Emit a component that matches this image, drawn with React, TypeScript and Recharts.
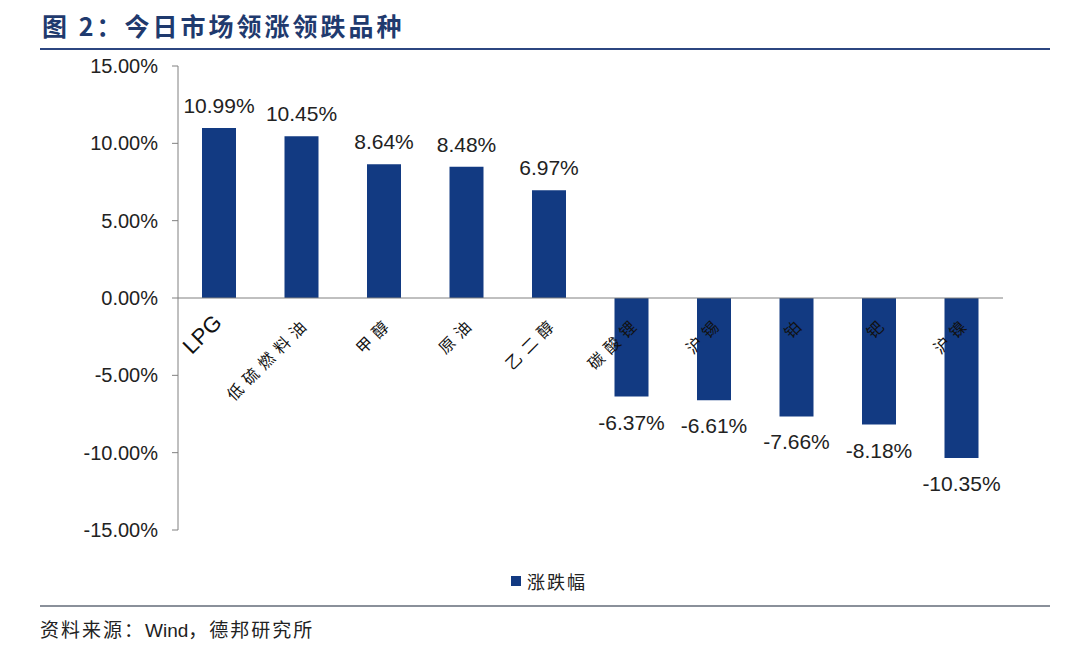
import { BarChart, Bar, XAxis, YAxis, ReferenceLine, LabelList } from "recharts";

const categories = ["LPG", "低硫燃料油", "甲醇", "原油", "乙二醇", "碳酸锂", "沪锡", "铂", "钯", "沪镍"];
const changes = [10.99, 10.45, 8.64, 8.48, 6.97, -6.37, -6.61, -7.66, -8.18, -10.35];
const yTicks = [-15, -10, -5, 0, 5, 10, 15];

const data = categories.map((name, i) => ({ name, value: changes[i] }));

const BAR = "#123a82";
const LATIN = "'Liberation Sans', Arial, sans-serif";
const CJK = "'Noto Sans CJK SC', sans-serif";

// category name sits just under the zero line, rotated like Excel does it
function CategoryLabel(props: any) {
  const { x, y, width, height, value, index } = props;
  const v = changes[index];
  const zero = v < 0 && height > 0 ? y : y + height;
  const isLatin = /^[A-Za-z]+$/.test(value);
  const cx = x + width / 2 + (isLatin ? 4 : 10);
  const ty = zero + 26;
  return (
    <text
      x={cx}
      y={ty}
      transform={`rotate(-45, ${cx}, ${ty})`}
      textAnchor="end"
      fontSize={isLatin ? 22 : 16}
      letterSpacing={isLatin ? 0 : 6}
      fontFamily={isLatin ? LATIN : CJK}
      fill="#111"
    >
      {value}
    </text>
  );
}

function ValueLabel(props: any) {
  const { x, y, width, height, index } = props;
  const v = changes[index];
  const top = Math.min(y, y + height);
  const bottom = Math.max(y, y + height);
  const ty = v >= 0 ? top - 15 : bottom + 33;
  return (
    <text x={x + width / 2} y={ty} textAnchor="middle" fontSize={21} fontFamily={LATIN} fill="#222">
      {v.toFixed(2)}%
    </text>
  );
}

export default function App() {
  return (
    <div style={{ position: "absolute", left: 0, top: 0, width: 1080, height: 647, background: "#fff" }}>
      <div
        style={{
          position: "absolute",
          left: 42,
          top: 7,
          fontFamily: CJK,
          fontWeight: 700,
          fontSize: 25,
          color: "#1f3a6e",
          letterSpacing: 3,
        }}
      >
        图 2：今日市场领涨领跌品种
      </div>
      <div style={{ position: "absolute", left: 40, top: 48, width: 1010, height: 2, background: "#2c4680" }} />

      <div style={{ position: "absolute", left: 0, top: 0 }}>
        <BarChart width={1080} height={647} data={data} margin={{ top: 66, right: 77, bottom: 117, left: 0 }}>
          <XAxis dataKey="name" hide />
          <YAxis
            width={178}
            domain={[-15, 15]}
            ticks={yTicks}
            tickFormatter={(t: number) => `${t.toFixed(2)}%`}
            tick={{ fontSize: 20, fontFamily: LATIN, fill: "#222" }}
            tickSize={6}
            tickMargin={14}
            stroke="#808080"
            tickLine={{ stroke: "#808080" }}
            axisLine={{ stroke: "#808080" }}
          />
          <ReferenceLine y={0} stroke="#808080" />
          <Bar dataKey="value" fill={BAR} barSize={34} isAnimationActive={false}>
            <LabelList dataKey="value" content={ValueLabel} />
            <LabelList dataKey="name" content={CategoryLabel} />
          </Bar>
        </BarChart>
      </div>

      <div
        style={{
          position: "absolute",
          left: 511,
          top: 568,
          display: "flex",
          alignItems: "center",
          gap: 6,
          fontFamily: CJK,
          fontSize: 18,
          color: "#222",
          letterSpacing: 2,
        }}
      >
        <span style={{ width: 10, height: 10, background: BAR, display: "inline-block" }} />
        <span>涨跌幅</span>
      </div>

      <div style={{ position: "absolute", left: 40, top: 605, width: 1010, height: 2, background: "#8a909a" }} />
      <div
        style={{
          position: "absolute",
          left: 40,
          top: 615,
          fontFamily: CJK,
          fontSize: 19,
          color: "#222",
          letterSpacing: 2,
        }}
      >
        资料来源：<span style={{ fontFamily: LATIN, letterSpacing: 0 }}>Wind</span>，德邦研究所
      </div>
    </div>
  );
}
